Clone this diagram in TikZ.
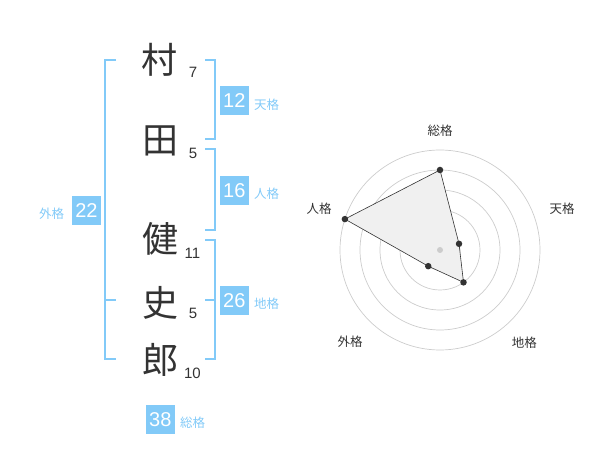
\documentclass[tikz,border=0pt]{standalone}
\usepackage{fontspec}
\setmainfont{Noto Sans CJK JP}
\newfontfamily\digits{Liberation Sans}
\usepackage{xcolor}
\usepackage{tikz}
\usetikzlibrary{positioning,calc}
\definecolor{skyline}{HTML}{82CAF8}
\definecolor{inkgray}{HTML}{333333}
\definecolor{ringgray}{HTML}{CCCCCC}

\begin{document}
\begin{tikzpicture}[
    x=1pt, y=-1pt,
    kanji/.style={font=\fontsize{36}{36}\selectfont, text=inkgray, inner sep=0pt},
    strokes/.style={font=\digits\fontsize{15}{15}\selectfont, text=inkgray, inner sep=0pt, anchor=base},
    scorebox/.style={rectangle, fill=skyline, text=white, minimum size=28.7pt,
        inner sep=0pt, font=\digits\fontsize{20}{20}\selectfont},
    scorelbl/.style={font=\fontsize{12.5}{12.5}\selectfont, text=skyline, inner sep=0pt},
    bracket/.style={draw=skyline, line width=2pt},
    ring/.style={draw=ringgray, line width=0.7pt},
    axislbl/.style={font=\fontsize{12.5}{12.5}\selectfont, text=inkgray, inner sep=0pt},
    dot/.style={circle, fill=inkgray, inner sep=0pt, minimum size=6.5pt}
]
    \useasboundingbox (0,0) rectangle (600,470);

    % --- Name characters ---
    \node[kanji] (mura) at (159, 60) {村};
    \node[kanji] (ta) at (160, 141) {田};
    \node[kanji] (ken) at (160, 239) {健};
    \node[kanji] (shi) at (160, 303) {史};
    \node[kanji] (ro) at (160, 360) {郎};

    \node[strokes] (nmura) at (193, 77.3) {7};
    \node[strokes] (nta) at (193, 158.3) {5};
    \node[strokes] (nken) at (192.5, 258.3) {11};
    \node[strokes] (nshi) at (193, 318.3) {5};
    \node[strokes] (nro) at (192.5, 378.3) {10};

    % --- Brackets ---
    \draw[bracket] (205, 60) -- (215, 60) -- (215, 139.3) -- (205, 139.3);
    \draw[bracket] (205, 149.3) -- (215, 149.3) -- (215, 230) -- (205, 230);
    \draw[bracket] (205, 240) -- (215, 240) -- (215, 359.3) -- (205, 359.3);
    \draw[bracket] (205, 300) -- (215, 300);
    \draw[bracket] (116, 60) -- (105, 60) -- (105, 359.3) -- (116, 359.3);
    \draw[bracket] (105, 300) -- (116, 300);

    % --- Scores ---
    \node[scorebox] (ten) at (234.3, 100.3) {12};
    \node[scorebox] (jin) at (234.3, 190.2) {16};
    \node[scorebox] (chi) at (234.3, 300.3) {26};
    \node[scorebox] (gai) at (86.5, 210.3) {22};
    \node[scorebox] (so) at (160.3, 419.2) {38};

    \node[scorelbl, anchor=west] (tenlbl) at (254, 104.5) {天格};
    \node[scorelbl, anchor=west] (jinlbl) at (254, 194) {人格};
    \node[scorelbl, anchor=west] (chilbl) at (254, 304) {地格};
    \node[scorelbl, anchor=east] (gailbl) at (64.3, 214) {外格};
    \node[scorelbl, anchor=west] (solbl) at (180, 422.5) {総格};

    % --- Radar chart ---
    \coordinate (hub) at (440, 250);
    \foreach \r in {20, 40, 60, 80, 100}
        \draw[ring] (hub) circle[radius=\r];

    \coordinate (pso) at ($(hub) + (-90:80)$);
    \coordinate (pten) at ($(hub) + (-18:20)$);
    \coordinate (pchi) at ($(hub) + (54:40)$);
    \coordinate (pgai) at ($(hub) + (126:20)$);
    \coordinate (pjin) at ($(hub) + (198:100)$);

    \draw[fill=black!6, draw=inkgray, line width=0.6pt]
        (pso) -- (pten) -- (pchi) -- (pgai) -- (pjin) -- cycle;
    \node[circle, fill=ringgray, inner sep=0pt, minimum size=6pt] (hubdot) at (hub) {};
    \foreach \p in {pso, pten, pchi, pgai, pjin}
        \node[dot] at (\p) {};

    \node[axislbl] (soaxis) at (440, 130.7) {総格};
    \node[axislbl] (tenaxis) at (562, 208.3) {天格};
    \node[axislbl] (chiaxis) at (524.3, 342.5) {地格};
    \node[axislbl] (gaiaxis) at (350, 341.7) {外格};
    \node[axislbl] (jinaxis) at (319, 208.7) {人格};
\end{tikzpicture}
\end{document}
